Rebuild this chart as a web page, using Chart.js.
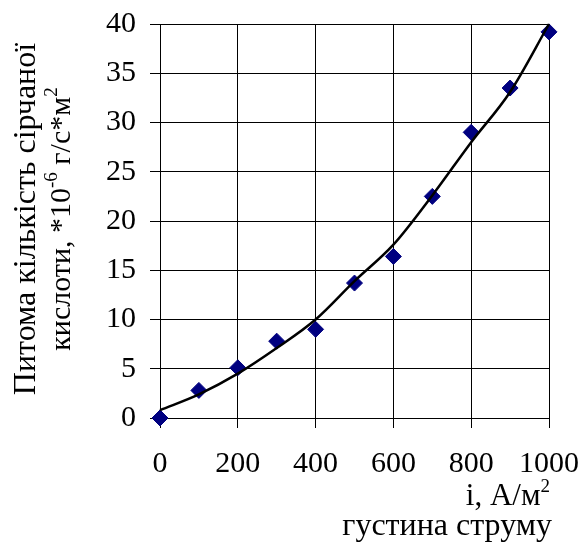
<!DOCTYPE html>
<html lang="uk">
<head>
    <meta charset="UTF-8">
    <title>Питома кількість сірчаної кислоти</title>
    <script src="https://cdn.jsdelivr.net/npm/chart.js"></script>
    <style>
        html, body { margin: 0; padding: 0; background: #fff; }
        #wrap { width: 581px; height: 543px; }
    </style>
</head>
<body>
    <div id="wrap"><canvas id="acidChart" width="581" height="543"></canvas></div>

    <script>
        // густина струму, А/м2
        const currentDensity = [0, 100, 200, 300, 400, 500, 600, 700, 800, 900, 1000];
        // питома кількість сірчаної кислоти, *10^-6 г/с*м2
        const acidAmount = [0, 2.8, 5.1, 7.8, 9.0, 13.7, 16.4, 22.5, 29.0, 33.5, 39.2];
        // лінія тренду
        const trendX = [0, 100, 200, 300, 400, 500, 600, 700, 800, 900, 1000];
        const trendY = [0.8, 2.4, 4.5, 7.1, 10.0, 13.9, 17.6, 22.6, 28.0, 33.1, 40.0];
        const xTicks = [0, 200, 400, 600, 800, 1000];
        const yTicks = [0, 5, 10, 15, 20, 25, 30, 35, 40];

        const serif = '"Liberation Serif", "Times New Roman", serif';
        const tickFont = { family: serif, size: 30 };

        // draws a run of text pieces, superscripts raised and smaller
        function drawRuns(ctx, runs, x, y, align, size) {
            const fontOf = r => (r.sup ? Math.round(size * 0.62) : size) + 'px ' + serif;
            const widths = runs.map(r => {
                ctx.font = fontOf(r);
                return ctx.measureText(r.t).width;
            });
            const total = widths.reduce((a, b) => a + b, 0);
            let cx = align === 'right' ? x - total : x - total / 2;
            ctx.textAlign = 'left';
            ctx.textBaseline = 'alphabetic';
            runs.forEach((r, i) => {
                ctx.font = fontOf(r);
                ctx.fillText(r.t, cx, r.sup ? y - size * 0.42 : y);
                cx += widths[i];
            });
        }

        const axisTitles = {
            id: 'axisTitles',
            afterDraw(chart) {
                const ctx = chart.ctx;
                const area = chart.chartArea;
                const midY = (area.top + area.bottom) / 2 - 2;
                ctx.save();
                ctx.fillStyle = '#000';
                // вісь Y
                ctx.save();
                ctx.translate(0, midY);
                ctx.rotate(-Math.PI / 2);
                drawRuns(ctx, [{ t: 'Питома кількість сірчаної' }], 0, 35, 'center', 32);
                drawRuns(ctx, [
                    { t: 'кислоти, *10' }, { t: '-6', sup: true },
                    { t: ' г/с*м' }, { t: '2', sup: true }
                ], 0, 70, 'center', 30);
                ctx.restore();
                // вісь X
                drawRuns(ctx, [{ t: 'і, А/м' }, { t: '2', sup: true }], 550, 505, 'right', 31);
                drawRuns(ctx, [{ t: 'густина струму' }], 552, 535, 'right', 32);
                ctx.restore();
            }
        };

        const noPad = s => {
            s.paddingLeft = 0; s.paddingRight = 0;
            s.paddingTop = 0; s.paddingBottom = 0;
        };

        const ctx = document.getElementById('acidChart').getContext('2d');
        const acidChart = new Chart(ctx, {
            type: 'scatter',
            data: {
                datasets: [{
                    label: 'дані',
                    data: currentDensity.map((x, i) => ({ x: x, y: acidAmount[i] })),
                    pointStyle: 'rectRot',
                    pointRadius: 8,
                    backgroundColor: '#000080',
                    borderColor: '#000080',
                    borderWidth: 1,
                    showLine: false,
                    clip: false,
                    order: 2
                }, {
                    label: 'тренд',
                    data: trendX.map((x, i) => ({ x: x, y: trendY[i] })),
                    showLine: true,
                    borderColor: '#000',
                    borderWidth: 2.5,
                    pointRadius: 0,
                    tension: 0.4,
                    cubicInterpolationMode: 'monotone',
                    clip: false,
                    order: 1
                }]
            },
            options: {
                responsive: false,
                animation: false,
                layout: { padding: { top: 24, right: 32, left: 0, bottom: 0 } },
                plugins: {
                    legend: { display: false },
                    tooltip: { enabled: false }
                },
                scales: {
                    x: {
                        type: 'linear',
                        min: 0,
                        max: 1000,
                        afterBuildTicks: s => { s.ticks = xTicks.map(v => ({ value: v })); },
                        afterFit: s => { s.height = 125; noPad(s); },
                        ticks: { color: '#000', font: tickFont, padding: 18, maxRotation: 0, callback: v => String(v) },
                        grid: { color: '#000', lineWidth: 1, tickLength: 10 },
                        border: { color: '#000', width: 1 }
                    },
                    y: {
                        min: 0,
                        max: 40,
                        afterBuildTicks: s => { s.ticks = yTicks.map(v => ({ value: v })); },
                        afterFit: s => { s.width = 160; noPad(s); },
                        ticks: { color: '#000', font: tickFont, padding: 14, callback: v => String(v) },
                        grid: { color: '#000', lineWidth: 1, tickLength: 10 },
                        border: { color: '#000', width: 1 }
                    }
                }
            },
            plugins: [axisTitles]
        });
    </script>
</body>
</html>
